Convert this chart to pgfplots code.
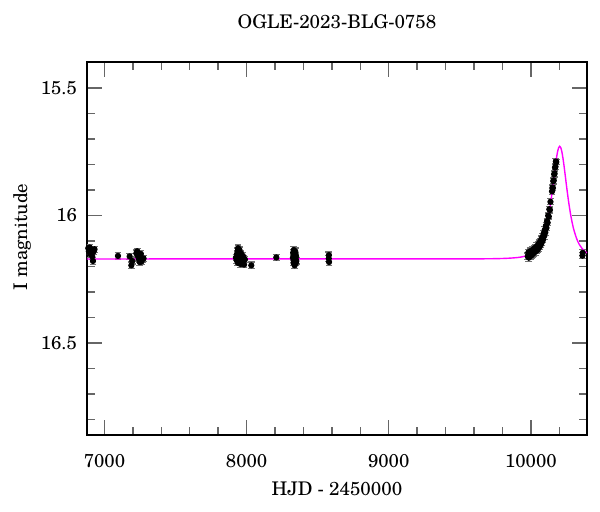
\documentclass[border=0pt]{standalone}
\usepackage{pgfplots}
\pgfplotsset{compat=1.18}
\usepackage{pgfplotstable}
\usepackage{fontspec}
\setmainfont{texgyreschola}[Extension=.otf, UprightFont=*-regular, BoldFont=*-bold, ItalicFont=*-italic, BoldItalicFont=*-bolditalic]

\pgfplotstableread{
t m e
6886 16.128 0.012
6890 16.140 0.013
6893 16.135 0.012
6896 16.125 0.012
6899 16.150 0.013
6902 16.142 0.012
6905 16.138 0.013
6908 16.132 0.012
6911 16.147 0.013
6914 16.160 0.013
6919 16.178 0.014
6924 16.140 0.012
6930 16.132 0.012
7095 16.158 0.012
7177 16.160 0.012
7189 16.195 0.013
7195 16.178 0.012
7224 16.148 0.013
7230 16.140 0.012
7236 16.158 0.012
7240 16.165 0.013
7244 16.172 0.012
7248 16.182 0.013
7252 16.162 0.012
7256 16.150 0.012
7260 16.180 0.012
7266 16.170 0.013
7275 16.168 0.012
7925 16.165 0.012
7930 16.175 0.013
7933 16.150 0.012
7936 16.140 0.013
7938 16.185 0.012
7940 16.128 0.013
7942 16.160 0.012
7945 16.145 0.012
7948 16.170 0.013
7950 16.135 0.012
7952 16.180 0.013
7955 16.155 0.012
7958 16.190 0.013
7960 16.148 0.012
7963 16.165 0.012
7966 16.175 0.013
7970 16.185 0.012
7974 16.158 0.012
7978 16.168 0.013
7982 16.192 0.012
7988 16.172 0.012
8033 16.195 0.013
8209 16.164 0.012
8326 16.165 0.012
8328 16.145 0.013
8330 16.185 0.012
8332 16.135 0.013
8334 16.155 0.012
8336 16.175 0.012
8338 16.195 0.013
8340 16.150 0.012
8342 16.140 0.013
8344 16.170 0.012
8346 16.185 0.012
8348 16.160 0.013
8350 16.178 0.012
8578 16.168 0.012
8579 16.155 0.012
8580 16.182 0.013
9978 16.160 0.013
9982 16.145 0.012
9986 16.165 0.014
9990 16.150 0.012
9994 16.140 0.013
9998 16.158 0.012
10002 16.142 0.013
10006 16.155 0.012
10010 16.136 0.013
10014 16.150 0.012
10018 16.132 0.012
10022 16.146 0.013
10026 16.128 0.012
10030 16.142 0.013
10034 16.125 0.012
10038 16.138 0.012
10042 16.120 0.013
10046 16.134 0.012
10050 16.115 0.012
10054 16.128 0.013
10058 16.108 0.012
10062 16.122 0.012
10066 16.102 0.013
10070 16.114 0.012
10074 16.092 0.012
10078 16.104 0.013
10082 16.083 0.012
10086 16.094 0.012
10090 16.070 0.012
10094 16.080 0.013
10098 16.056 0.012
10102 16.066 0.012
10106 16.040 0.012
10110 16.048 0.012
10114 16.022 0.012
10118 16.028 0.012
10122 16.000 0.012
10126 16.004 0.012
10130 15.975 0.012
10134 15.978 0.012
10138 15.946 0.012
10149 15.905 0.011
10152 15.890 0.011
10155 15.892 0.011
10158 15.865 0.011
10161 15.862 0.011
10164 15.838 0.011
10167 15.835 0.011
10170 15.812 0.011
10173 15.808 0.011
10176 15.788 0.011
10179 15.790 0.011
10363 16.157 0.012
10365 16.146 0.012
}\obsdata

\pgfplotstableread{
t m
6877 16.1700
9000 16.1698
9603 16.1696
9803 16.1681
9903 16.1646
9953 16.1599
10003 16.1495
10033 16.1372
10063 16.1153
10083 16.0917
10103 16.0568
10113 16.0336
10123 16.0059
10133 15.9730
10143 15.9352
10150.5 15.9038
10158 15.8705
10165.5 15.8365
10173 15.8033
10180.5 15.7735
10188 15.7496
10195.5 15.7339
10203 15.7284
10210.5 15.7339
10218 15.7496
10225.5 15.7735
10233 15.8033
10240.5 15.8365
10248 15.8705
10255.5 15.9038
10263 15.9352
10273 15.9730
10283 16.0059
10293 16.0336
10303 16.0568
10323 16.0917
10343 16.1153
10373 16.1372
10395 16.1462
}\modeldata

\definecolor{fitmag}{RGB}{255,0,255}

\begin{document}
\fontsize{9.3}{11}\selectfont
\begin{tikzpicture}
\begin{axis}[
  scale only axis,
  width=250pt, height=186.5pt,
  xmin=6877, xmax=10395,
  ymin=15.398, ymax=16.86,
  y dir=reverse,
  axis line style={black, line width=0.6pt},
  tick align=inside,
  tick pos=both,
  xticklabel pos=bottom,
  yticklabel pos=left,
  xtick={7000,8000,9000,10000},
  minor xtick={7200,7400,7600,7800,8200,8400,8600,8800,9200,9400,9600,9800,10200},
  ytick={15.5,16,16.5},
  yticklabels={15.5,16,16.5},
  minor ytick={15.6,15.7,15.8,15.9,16.1,16.2,16.3,16.4,16.6,16.7,16.8},
  major tick length=7.5pt,
  minor tick length=4pt,
  every tick/.style={black!60, line width=0.7pt},
  /pgf/number format/assume math mode=true,
  /pgf/number format/1000 sep={},
  scaled x ticks=false,
  xticklabel style={font=\fontsize{9.3}{11}\selectfont, yshift=-6.5pt},
  yticklabel style={font=\fontsize{9.3}{11}\selectfont, xshift=-1.7pt},
  title={OGLE-2023-BLG-0758},
  title style={font=\fontsize{9.4}{11}\selectfont, at={(axis description cs:0.5,1)}, anchor=base, yshift=10.5pt},
  xlabel={HJD - 2450000},
  xlabel style={font=\fontsize{9.4}{11}\selectfont, at={(axis description cs:0.5,0)}, anchor=north, yshift=-20pt},
  ylabel={I magnitude},
  ylabel style={font=\fontsize{9.4}{11}\selectfont, at={(axis description cs:-0.13,0.531)}, anchor=center},
  clip=true,
]
\coordinate (SW) at (rel axis cs:0,0);
\coordinate (NE) at (rel axis cs:1,1);
\addplot[only marks, mark=*, mark size=1.35pt, black,
  error bars/.cd, y dir=both, y explicit,
  error bar style={black!70, line width=0.5pt},
  error mark options={rotate=90, mark size=1.7pt, black!55, line width=0.6pt}]
  table[x=t, y=m, y error=e] {\obsdata};
\addplot[fitmag, line width=0.7pt, smooth, no markers] table[x=t, y=m] {\modeldata};
\end{axis}
\path[use as bounding box] ([shift={(-43.5pt,-38.5pt)}]SW) rectangle ([shift={(6.5pt,31pt)}]NE);
\end{tikzpicture}
\end{document}
